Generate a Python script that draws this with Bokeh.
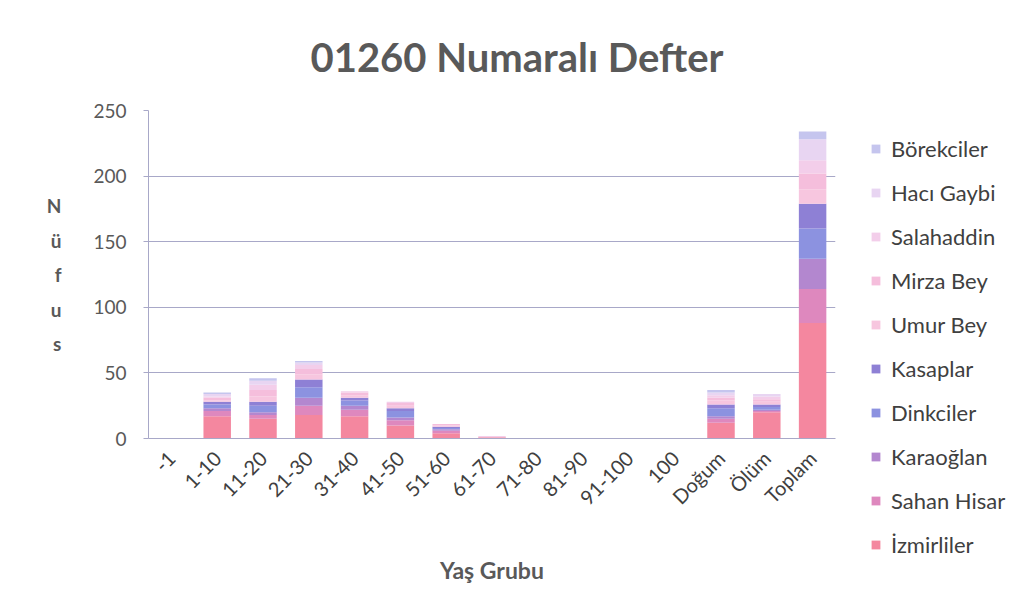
from bokeh.plotting import figure
from bokeh.models import Legend, LegendItem, FixedTicker, ColumnDataSource
from bokeh.embed import file_html
from bokeh.resources import INLINE
from math import pi

categories = ["-1", "1-10", "11-20", "21-30", "31-40", "41-50", "51-60", "61-70",
              "71-80", "81-90", "91-100", "100", "Doğum", "Ölüm", "Toplam"]

# stack order bottom -> top
series_names = ["İzmirliler", "Sahan Hisar", "Karaoğlan", "Dinkciler", "Kasaplar",
                "Umur Bey", "Mirza Bey", "Salahaddin", "Hacı Gaybi", "Börekciler"]

izmirliler  = [0, 17, 15, 18, 17, 10, 4, 1, 0, 0, 0, 0, 12, 20, 88]
sahan_hisar = [0, 4, 3, 7, 5, 4, 2, 0, 0, 0, 0, 0, 3, 1, 26]
karaoglan   = [0, 2, 2, 6, 3, 2, 1, 0, 0, 0, 0, 0, 2, 1, 23]
dinkciler   = [0, 3, 5, 8, 4, 5, 1, 0, 0, 0, 0, 0, 6, 2, 23]
kasaplar    = [0, 2, 3, 6, 2, 2, 1, 0, 0, 0, 0, 0, 3, 2, 19]
umur_bey    = [0, 1, 4, 4, 2, 2, 1, 0, 0, 0, 0, 0, 3, 2, 11]
mirza_bey   = [0, 2, 5, 4, 2, 2, 1, 0, 0, 0, 0, 0, 2, 2, 12]
salahaddin  = [0, 1, 4, 3, 1, 1, 0, 1, 0, 0, 0, 0, 2, 2, 10]
haci_gaybi  = [0, 2, 3, 2, 0, 0, 0, 0, 0, 0, 0, 0, 2, 2, 16]
borekciler  = [0, 1, 2, 1, 0, 0, 0, 0, 0, 0, 0, 0, 2, 0, 6]

colors = ["#F4879F", "#DE88BE", "#B387CF", "#8C92E0", "#8E80D5",
          "#F7C6DF", "#F5BEDC", "#F3CEEA", "#E8D5F2", "#C5C5EE"]

keys = ["s%d" % i for i in range(10)]
data = {"cat": categories}
for k, arr in zip(keys, [izmirliler, sahan_hisar, karaoglan, dinkciler, kasaplar,
                         umur_bey, mirza_bey, salahaddin, haci_gaybi, borekciler]):
    data[k] = arr
source = ColumnDataSource(data)

FONT = "Lato"
TXT = "#595959"

p = figure(x_range=categories, y_range=(0, 250), frame_width=687, frame_height=328,
           output_backend="svg", toolbar_location=None,
           min_border_left=148, min_border_right=180, min_border_top=110, min_border_bottom=162,
           title="01260 Numaralı Defter")

p.title.align = "left"
p.title.offset = 162
p.title.text_font = FONT
p.title.text_font_size = "40px"
p.title.text_font_style = "bold"
p.title.text_color = TXT
p.title.standoff = 59

renderers = p.vbar_stack(keys, x="cat", width=0.6, color=colors, source=source, line_color=None)

items = [LegendItem(label=series_names[i], renderers=[renderers[i]]) for i in range(9, -1, -1)]
legend = Legend(items=items, location=(35, -120), border_line_color=None,
                glyph_width=11, glyph_height=11, label_height=27, spacing=17,
                label_text_font=FONT, label_text_font_size="22px", label_text_color="#404040",
                padding=0, margin=0, label_standoff=10)
p.add_layout(legend, "right")

p.outline_line_color = None
p.xgrid.grid_line_color = None
p.ygrid.grid_line_color = "#A8A8C8"
p.ygrid.grid_line_width = 1

p.yaxis.ticker = FixedTicker(ticks=[0, 50, 100, 150, 200, 250])
p.yaxis.axis_line_color = "#A8A8C8"
p.yaxis.major_tick_line_color = "#A8A8C8"
p.yaxis.major_tick_out = 5
p.yaxis.major_tick_in = 0
p.yaxis.minor_tick_line_color = None
p.yaxis.major_label_text_font = FONT
p.yaxis.major_label_text_font_size = "19px"
p.yaxis.major_label_text_color = TXT
p.yaxis.major_label_standoff = 17
p.yaxis.axis_label = "N\nü\nf\nu\ns"
p.yaxis.axis_label_orientation = "horizontal"
p.yaxis.axis_label_text_font = FONT
p.yaxis.axis_label_text_font_size = "19px"
p.yaxis.axis_label_text_font_style = "bold"
p.yaxis.axis_label_text_color = TXT
p.yaxis.axis_label_text_line_height = 1.5
p.yaxis.axis_label_standoff = 29

p.xaxis.axis_line_color = "#A8A8C8"
p.xaxis.major_tick_line_color = None
p.xaxis.major_label_orientation = pi / 4
p.xaxis.major_label_text_font = FONT
p.xaxis.major_label_text_font_size = "20px"
p.xaxis.major_label_text_color = "#404040"
p.xaxis.major_label_standoff = 10
p.xaxis.axis_label = "Yaş Grubu"
p.xaxis.axis_label_text_font = FONT
p.xaxis.axis_label_text_font_size = "23px"
p.xaxis.axis_label_text_font_style = "bold"
p.xaxis.axis_label_text_color = TXT
p.xaxis.axis_label_standoff = 35

open("out.html", "w").write(file_html(p, INLINE))
